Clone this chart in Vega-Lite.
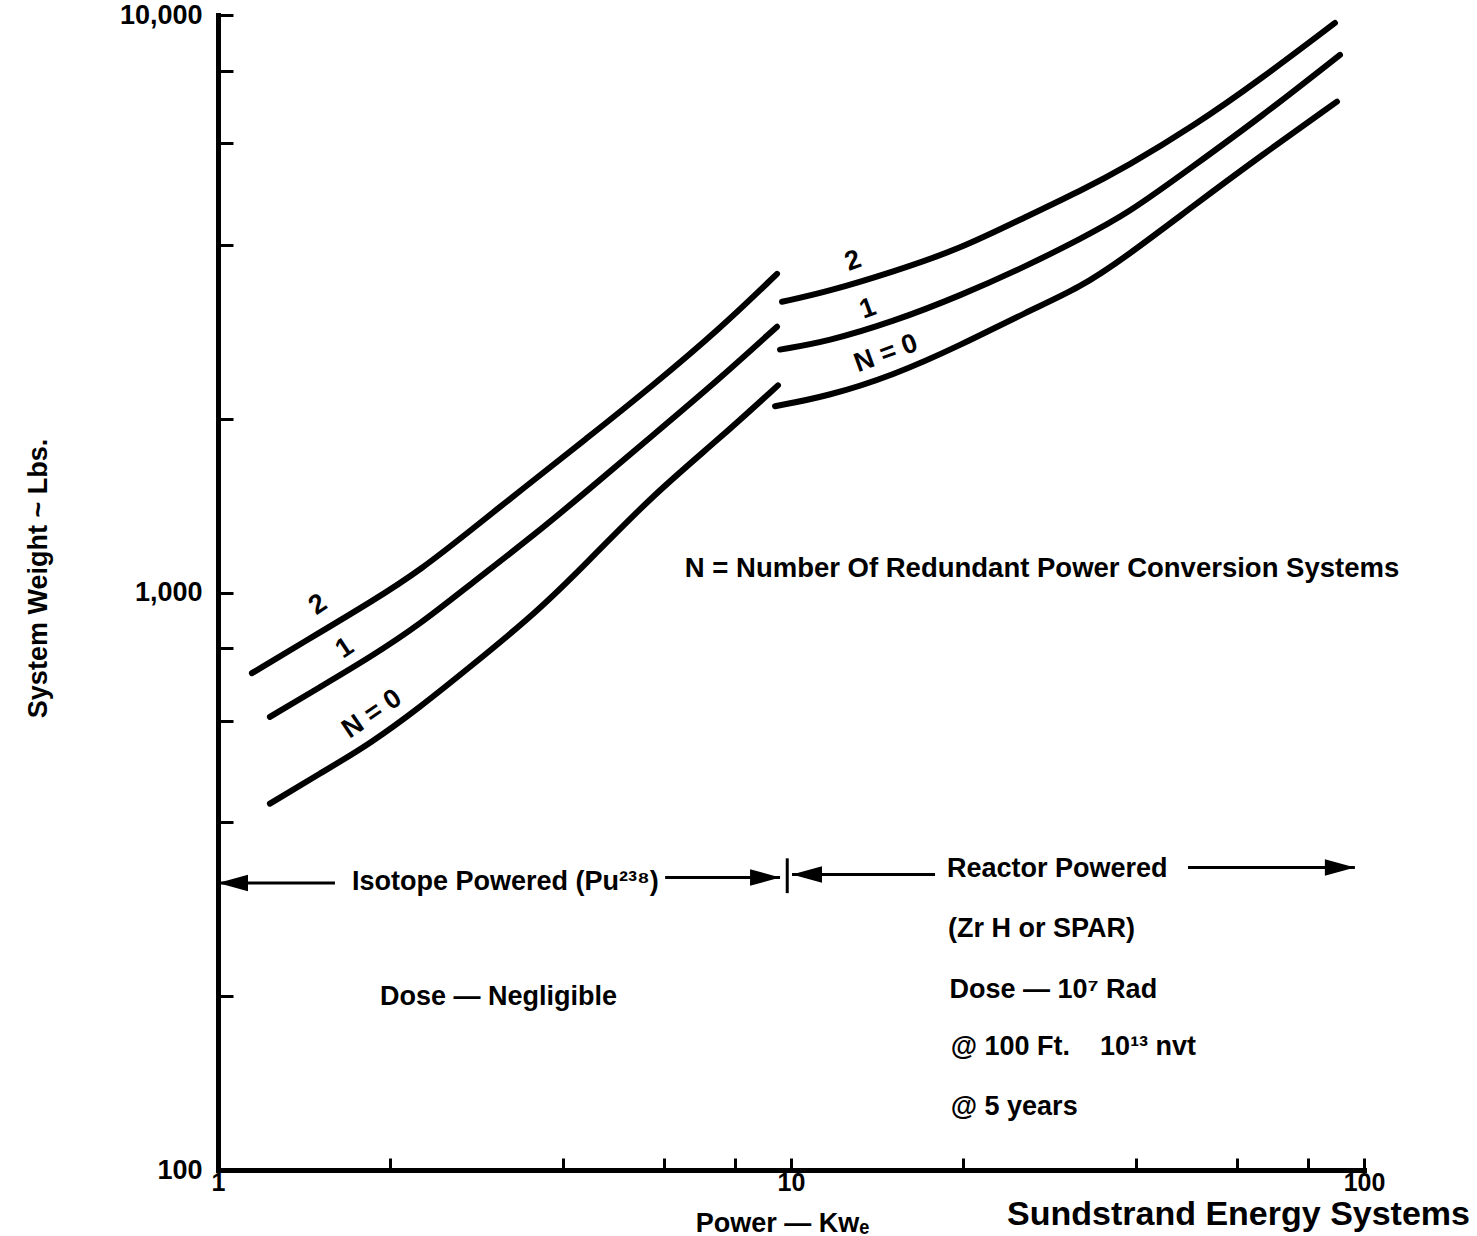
{
  "$schema": "https://vega.github.io/schema/vega-lite/v6.json",
  "width": 1146,
  "height": 1155,
  "autosize": {"type": "none"},
  "padding": {"left": 218, "top": 15, "right": 113, "bottom": 66},
  "background": "white",
  "title": {
    "text": "Sundstrand Energy Systems",
    "orient": "bottom",
    "anchor": "end",
    "frame": "group",
    "font": "Liberation Sans",
    "fontSize": 34,
    "fontWeight": "bold",
    "color": "black",
    "dx": 106,
    "dy": -42
  },
  "config": {
    "view": {"stroke": null},
    "font": "Liberation Sans",
    "axis": {
      "labelFont": "Liberation Sans",
      "labelFontSize": 27,
      "labelFontWeight": "bold",
      "labelColor": "black",
      "titleFont": "Liberation Sans",
      "titleFontSize": 27,
      "titleFontWeight": "bold",
      "titleColor": "black",
      "domainColor": "black",
      "domainWidth": 5,
      "domainCap": "square",
      "tickColor": "black",
      "tickWidth": 3,
      "grid": false,
      "labelOverlap": false,
      "labelFlush": false
    }
  },
  "datasets": {
    "curves": [
      {"seg": "N2 isotope", "x": 1.146, "y": 725},
      {"seg": "N2 isotope", "x": 1.507, "y": 853},
      {"seg": "N2 isotope", "x": 1.842, "y": 961},
      {"seg": "N2 isotope", "x": 2.252, "y": 1091},
      {"seg": "N2 isotope", "x": 2.866, "y": 1320},
      {"seg": "N2 isotope", "x": 3.365, "y": 1499},
      {"seg": "N2 isotope", "x": 4.405, "y": 1850},
      {"seg": "N2 isotope", "x": 5.743, "y": 2284},
      {"seg": "N2 isotope", "x": 7.517, "y": 2863},
      {"seg": "N2 isotope", "x": 9.454, "y": 3563},
      {"seg": "N1 isotope", "x": 1.232, "y": 609},
      {"seg": "N1 isotope", "x": 1.507, "y": 686},
      {"seg": "N1 isotope", "x": 1.842, "y": 772},
      {"seg": "N1 isotope", "x": 2.252, "y": 881},
      {"seg": "N1 isotope", "x": 2.753, "y": 1032},
      {"seg": "N1 isotope", "x": 3.603, "y": 1269},
      {"seg": "N1 isotope", "x": 4.405, "y": 1499},
      {"seg": "N1 isotope", "x": 5.743, "y": 1873},
      {"seg": "N1 isotope", "x": 7.517, "y": 2348},
      {"seg": "N1 isotope", "x": 9.454, "y": 2886},
      {"seg": "N0 isotope", "x": 1.232, "y": 431},
      {"seg": "N0 isotope", "x": 1.507, "y": 486},
      {"seg": "N0 isotope", "x": 1.842, "y": 547},
      {"seg": "N0 isotope", "x": 2.252, "y": 633},
      {"seg": "N0 isotope", "x": 2.753, "y": 743},
      {"seg": "N0 isotope", "x": 3.603, "y": 925},
      {"seg": "N0 isotope", "x": 4.405, "y": 1126},
      {"seg": "N0 isotope", "x": 5.743, "y": 1476},
      {"seg": "N0 isotope", "x": 7.517, "y": 1850},
      {"seg": "N0 isotope", "x": 9.49, "y": 2284},
      {"seg": "N2 reactor", "x": 9.645, "y": 3187},
      {"seg": "N2 reactor", "x": 11.56, "y": 3316},
      {"seg": "N2 reactor", "x": 15.07, "y": 3592},
      {"seg": "N2 reactor", "x": 19.72, "y": 3934},
      {"seg": "N2 reactor", "x": 25.82, "y": 4484},
      {"seg": "N2 reactor", "x": 31.94, "y": 4953},
      {"seg": "N2 reactor", "x": 38.59, "y": 5469},
      {"seg": "N2 reactor", "x": 50.3, "y": 6411},
      {"seg": "N2 reactor", "x": 65.86, "y": 7727},
      {"seg": "N2 reactor", "x": 88.99, "y": 9687},
      {"seg": "N1 reactor", "x": 9.567, "y": 2634},
      {"seg": "N1 reactor", "x": 11.56, "y": 2719},
      {"seg": "N1 reactor", "x": 15.07, "y": 2944},
      {"seg": "N1 reactor", "x": 19.72, "y": 3264},
      {"seg": "N1 reactor", "x": 25.82, "y": 3678},
      {"seg": "N1 reactor", "x": 31.94, "y": 4094},
      {"seg": "N1 reactor", "x": 38.59, "y": 4520},
      {"seg": "N1 reactor", "x": 50.3, "y": 5469},
      {"seg": "N1 reactor", "x": 65.86, "y": 6643},
      {"seg": "N1 reactor", "x": 90.8, "y": 8531},
      {"seg": "N0 reactor", "x": 9.378, "y": 2102},
      {"seg": "N0 reactor", "x": 11.56, "y": 2186},
      {"seg": "N0 reactor", "x": 15.07, "y": 2376},
      {"seg": "N0 reactor", "x": 19.72, "y": 2677},
      {"seg": "N0 reactor", "x": 25.82, "y": 3064},
      {"seg": "N0 reactor", "x": 31.94, "y": 3370},
      {"seg": "N0 reactor", "x": 38.59, "y": 3826},
      {"seg": "N0 reactor", "x": 50.3, "y": 4667},
      {"seg": "N0 reactor", "x": 65.86, "y": 5691},
      {"seg": "N0 reactor", "x": 89.7, "y": 7079}
    ],
    "arrows": [
      {"part": "isotope left", "x": 1.0, "x2": 1.6, "y": 314},
      {"part": "isotope right", "x": 6.03, "x2": 9.57, "y": 321},
      {"part": "reactor left", "x": 10.04, "x2": 17.84, "y": 325},
      {"part": "reactor right", "x": 49.3, "x2": 96.4, "y": 334}
    ],
    "heads": [
      {"dir": "left", "x": 1.0, "y": 314},
      {"dir": "right", "x": 9.57, "y": 321},
      {"dir": "left", "x": 10.04, "y": 325},
      {"dir": "right", "x": 96.4, "y": 334}
    ],
    "divider": [
      {"x": 9.85, "y": 301.6, "y2": 346.5}
    ],
    "curveLabels": [
      {"side": "isotope", "label": "2", "x": 1.495, "y": 953},
      {"side": "isotope", "label": "1", "x": 1.665, "y": 801},
      {"side": "isotope", "label": "N = 0", "x": 1.857, "y": 616},
      {"side": "reactor", "label": "2", "x": 12.83, "y": 3751},
      {"side": "reactor", "label": "1", "x": 13.62, "y": 3100},
      {"side": "reactor", "label": "N = 0", "x": 14.65, "y": 2593}
    ],
    "notes": [
      {"label": "Isotope Powered (Pu²³⁸)", "x": 1.713, "y": 315},
      {"label": "Reactor Powered", "x": 18.72, "y": 332},
      {"label": "(Zr H or SPAR)", "x": 18.8, "y": 261},
      {"label": "Dose — 10⁷ Rad", "x": 18.9, "y": 205},
      {"label": "@ 100 Ft.\u00a0\u00a0\u00a0\u00a010¹³ nvt", "x": 19.0, "y": 163},
      {"label": "@ 5 years", "x": 19.0, "y": 128.4},
      {"label": "Dose — Negligible", "x": 1.918, "y": 199.5}
    ],
    "legendNote": [
      {"label": "N = Number Of Redundant Power Conversion Systems", "x": 27.42, "y": 1100}
    ]
  },
  "encoding": {
    "x": {
      "field": "x",
      "type": "quantitative",
      "scale": {"type": "log", "domain": [1, 100], "nice": false},
      "axis": {
        "values": [1, 2, 4, 6, 8, 10, 20, 40, 60, 80, 100],
        "format": "d",
        "labelExpr": "datum.value == 1 || datum.value == 10 || datum.value == 100 ? datum.label : ''",
        "tickSize": -12,
        "labelPadding": 12,
        "labelFontSize": 25,
        "title": "Power — Kwₑ",
        "titleX": 564,
        "titleY": 53,
        "titleAlign": "center",
        "titleBaseline": "middle"
      }
    },
    "y": {
      "field": "y",
      "type": "quantitative",
      "scale": {"type": "log", "domain": [100, 10000], "nice": false},
      "axis": {
        "values": [100, 200, 400, 600, 800, 1000, 2000, 4000, 6000, 8000, 10000],
        "format": ",",
        "labelExpr": "datum.value == 100 || datum.value == 1000 || datum.value == 10000 ? datum.label : ''",
        "tickSize": -15,
        "labelPadding": 31,
        "title": "System Weight ~ Lbs.",
        "titleX": -180,
        "titleY": 563,
        "titleAngle": 270,
        "titleAlign": "center",
        "titleBaseline": "middle"
      }
    }
  },
  "layer": [
    {
      "data": {"name": "curves"},
      "mark": {"type": "line", "color": "black", "strokeWidth": 6, "strokeCap": "round", "interpolate": "basis"},
      "encoding": {"detail": {"field": "seg", "type": "nominal"}}
    },
    {
      "data": {"name": "arrows"},
      "mark": {"type": "rule", "color": "black", "strokeWidth": 3},
      "encoding": {"x2": {"field": "x2"}}
    },
    {
      "data": {"name": "divider"},
      "mark": {"type": "rule", "color": "black", "strokeWidth": 3},
      "encoding": {"y2": {"field": "y2"}}
    },
    {
      "data": {"name": "heads"},
      "transform": [{"filter": "datum.dir == 'left'"}],
      "mark": {"type": "point", "shape": "M0,0L2,-0.55L2,0.55Z", "filled": true, "color": "black", "opacity": 1, "size": 900, "strokeWidth": 0}
    },
    {
      "data": {"name": "heads"},
      "transform": [{"filter": "datum.dir == 'right'"}],
      "mark": {"type": "point", "shape": "M0,0L-2,-0.55L-2,0.55Z", "filled": true, "color": "black", "opacity": 1, "size": 900, "strokeWidth": 0}
    },
    {
      "data": {"name": "curveLabels"},
      "transform": [{"filter": "datum.side == 'isotope'"}],
      "mark": {"type": "text", "font": "Liberation Sans", "fontWeight": "bold", "fontSize": 27, "color": "black", "angle": 326, "align": "center", "baseline": "middle"},
      "encoding": {"text": {"field": "label"}}
    },
    {
      "data": {"name": "curveLabels"},
      "transform": [{"filter": "datum.side == 'reactor'"}],
      "mark": {"type": "text", "font": "Liberation Sans", "fontWeight": "bold", "fontSize": 27, "color": "black", "angle": 340, "align": "center", "baseline": "middle"},
      "encoding": {"text": {"field": "label"}}
    },
    {
      "data": {"name": "notes"},
      "mark": {"type": "text", "font": "Liberation Sans", "fontWeight": "bold", "fontSize": 27, "color": "black", "align": "left", "baseline": "middle"},
      "encoding": {"text": {"field": "label"}}
    },
    {
      "data": {"name": "legendNote"},
      "mark": {"type": "text", "font": "Liberation Sans", "fontWeight": "bold", "fontSize": 27.5, "color": "black", "align": "center", "baseline": "middle"},
      "encoding": {"text": {"field": "label"}}
    }
  ]
}
